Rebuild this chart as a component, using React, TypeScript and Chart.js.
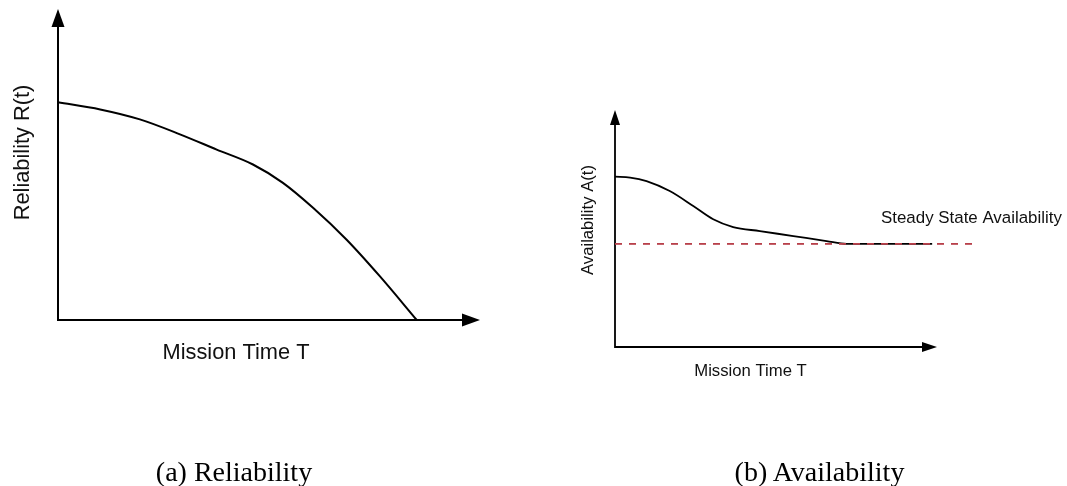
import React, { useEffect, useRef } from "react";
import { Chart, registerables } from "chart.js";

Chart.register(...registerables);

// ---- Data (mission time as a fraction of the drawn axis length) ----
const relTime = [0, 0.1, 0.194, 0.289, 0.376, 0.462, 0.533, 0.605, 0.684, 0.763, 0.85];
const relValue = [0.7, 0.677, 0.645, 0.597, 0.548, 0.5, 0.441, 0.36, 0.258, 0.14, 0.0];

const availTime = [0, 0.047, 0.098, 0.17, 0.243, 0.305, 0.367, 0.45, 0.554, 0.657, 0.72, 0.985];
const availValue = [0.719, 0.715, 0.7, 0.658, 0.595, 0.539, 0.506, 0.489, 0.468, 0.447, 0.435, 0.435];

const steadyTime = [0, 1.109];
const steadyValue = [0.435, 0.435];

const relXLabel = "Mission Time T";
const relYLabel = "Reliability R(t)";
const availXLabel = "Mission Time T";
const availYLabel = "Availability A(t)";
const steadyLabel = "Steady State Availability";
const captionA = "(a) Reliability";
const captionB = "(b) Availability";

const toPoints = (xs: number[], ys: number[]) => xs.map((x, i) => ({ x, y: ys[i] }));

type TextSpec = { text: string; x: number; y: number; size: number; rotate?: boolean; align?: CanvasTextAlign };

type PanelSpec = {
  width: number;
  height: number;
  padding: { left: number; right: number; top: number; bottom: number };
  arrowLen: number;
  arrowHalf: number;
  axisWidth: number;
  texts: TextSpec[];
  datasets: any[];
};

function makeAxesPlugin(spec: PanelSpec) {
  return {
    id: "axesArrows",
    beforeDatasetsDraw(chart: any) {
      const { ctx, chartArea, scales } = chart;
      const x0 = scales.x.getPixelForValue(0);
      const y0 = scales.y.getPixelForValue(0);
      const xEnd = chartArea.right;
      const yEnd = chartArea.top;
      const L = spec.arrowLen;
      const H = spec.arrowHalf;
      ctx.save();
      ctx.strokeStyle = "#000";
      ctx.fillStyle = "#000";
      ctx.lineWidth = spec.axisWidth;
      ctx.lineCap = "butt";
      ctx.beginPath();
      ctx.moveTo(x0, yEnd + L - 1);
      ctx.lineTo(x0, y0);
      ctx.lineTo(xEnd - L + 1, y0);
      ctx.stroke();
      // y arrow
      ctx.beginPath();
      ctx.moveTo(x0, yEnd);
      ctx.lineTo(x0 - H, yEnd + L);
      ctx.lineTo(x0 + H, yEnd + L);
      ctx.closePath();
      ctx.fill();
      // x arrow
      ctx.beginPath();
      ctx.moveTo(xEnd, y0);
      ctx.lineTo(xEnd - L, y0 - H);
      ctx.lineTo(xEnd - L, y0 + H);
      ctx.closePath();
      ctx.fill();
      ctx.restore();
    },
    afterDraw(chart: any) {
      const { ctx } = chart;
      ctx.save();
      ctx.fillStyle = "#111";
      ctx.textBaseline = "alphabetic";
      for (const t of spec.texts) {
        ctx.font = `${t.size}px "Liberation Sans", Arial, sans-serif`;
        if (t.rotate) {
          ctx.save();
          ctx.translate(t.x, t.y);
          ctx.rotate(-Math.PI / 2);
          ctx.textAlign = "center";
          ctx.fillText(t.text, 0, 0);
          ctx.restore();
        } else {
          ctx.textAlign = t.align || "center";
          ctx.fillText(t.text, t.x, t.y);
        }
      }
      ctx.restore();
    },
  };
}

function Panel({ spec, left }: { spec: PanelSpec; left: number }) {
  const ref = useRef<HTMLCanvasElement | null>(null);
  useEffect(() => {
    if (!ref.current) return;
    const chart = new Chart(ref.current, {
      type: "line",
      data: { datasets: spec.datasets },
      options: {
        animation: false,
        responsive: false,
        events: [],
        layout: { padding: spec.padding },
        plugins: { legend: { display: false }, tooltip: { enabled: false }, title: { display: false } },
        scales: {
          x: { type: "linear", min: 0, max: 1, display: false },
          y: { type: "linear", min: 0, max: 1, display: false },
        },
        elements: { point: { radius: 0 } },
      },
      plugins: [makeAxesPlugin(spec)],
    } as any);
    return () => chart.destroy();
  }, [spec]);
  return (
    <canvas
      ref={ref}
      width={spec.width}
      height={spec.height}
      style={{ position: "absolute", left, top: 0, width: spec.width, height: spec.height }}
    />
  );
}

const panelA: PanelSpec = {
  width: 533,
  height: 486,
  padding: { left: 58, right: 533 - 480, top: 9, bottom: 486 - 320 },
  arrowLen: 18,
  arrowHalf: 6.5,
  axisWidth: 2,
  texts: [
    { text: relXLabel, x: 236, y: 359, size: 21.8 },
    { text: relYLabel, x: 29, y: 152.5, size: 21.8, rotate: true },
  ],
  datasets: [
    {
      data: toPoints(relTime, relValue),
      borderColor: "#000",
      borderWidth: 2,
      cubicInterpolationMode: "monotone",
      fill: false,
      clip: false,
    },
  ],
};

const panelB: PanelSpec = {
  width: 534,
  height: 486,
  padding: { left: 615 - 533, right: 534 - (937 - 533), top: 110, bottom: 486 - 347 },
  arrowLen: 15,
  arrowHalf: 5,
  axisWidth: 1.8,
  texts: [
    { text: availXLabel, x: 750.5 - 533, y: 376, size: 16.7 },
    { text: availYLabel, x: 593 - 533, y: 220, size: 16.7, rotate: true },
    { text: steadyLabel, x: 881 - 533, y: 223, size: 16.9, align: "left" },
  ],
  datasets: [
    {
      data: toPoints(steadyTime, steadyValue),
      borderColor: "#b8404a",
      borderWidth: 1.8,
      borderDash: [7, 7],
      fill: false,
      clip: false,
      tension: 0,
    },
    {
      data: toPoints(availTime, availValue),
      borderColor: "#000",
      borderWidth: 1.8,
      cubicInterpolationMode: "monotone",
      fill: false,
      clip: false,
    },
  ],
};

const captionStyle: React.CSSProperties = {
  position: "absolute",
  top: 457.5,
  transform: "translateX(-50%)",
  whiteSpace: "nowrap",
  fontFamily: '"Liberation Serif", "Times New Roman", serif',
  fontSize: 28,
  lineHeight: "28px",
  color: "#000",
};

export default function App() {
  return (
    <div style={{ position: "absolute", left: 0, top: 0, width: 1067, height: 486, background: "#fff", overflow: "hidden" }}>
      <Panel spec={panelA} left={0} />
      <Panel spec={panelB} left={533} />
      <div style={{ ...captionStyle, left: 234 }}>{captionA}</div>
      <div style={{ ...captionStyle, left: 819.5 }}>{captionB}</div>
    </div>
  );
}
